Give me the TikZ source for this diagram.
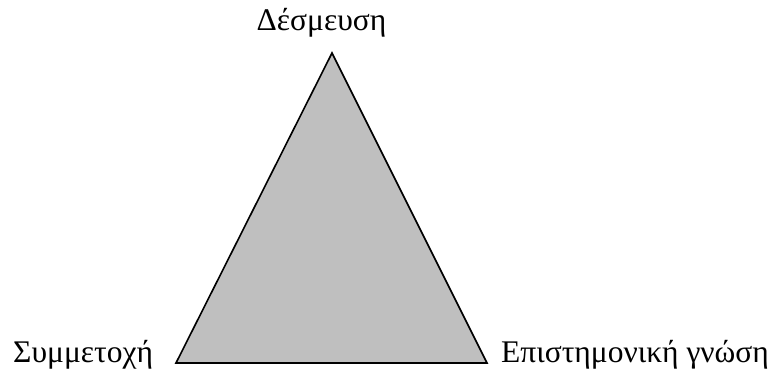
\documentclass[tikz,border=0pt]{standalone}
\usepackage{fontspec}
\setmainfont{Liberation Serif}
\begin{document}
\begin{tikzpicture}[x=1pt,y=-1pt,
  lbl/.style={font=\fontsize{31.5}{36}\selectfont, inner sep=0pt},
  tri/.style={draw=black, fill=black!25, line width=1.6pt, line join=miter}]
\useasboundingbox (0,0) rectangle (773,369);
\coordinate (A) at (332,53);
\coordinate (B) at (176,363);
\coordinate (C) at (487,363);
\draw[tri] (A) -- (B) -- (C) -- cycle;
\node[lbl, anchor=base] (top) at (321.5,31) {Δέσμευση};
\node[lbl, anchor=base west] (left) at (13,362) {Συμμετοχή};
\node[lbl, anchor=base west] (right) at (501,362) {Επιστημονική γνώση};
\end{tikzpicture}
\end{document}
